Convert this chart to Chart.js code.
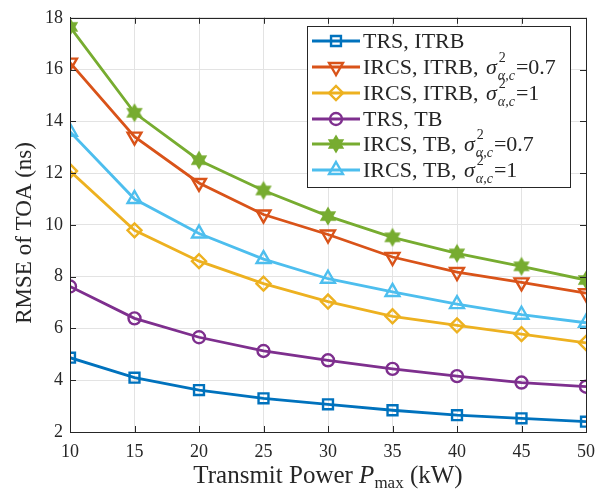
<!DOCTYPE html>
<html>
<head>
<meta charset="UTF-8">
<title>RMSE of TOA</title>
<script src="https://cdn.jsdelivr.net/npm/chart.js"></script>
<style>
  body { margin: 0; background: #fff; }
  #wrap { width: 608px; height: 496px; position: relative; }
</style>
</head>
<body>
<div id="wrap"><canvas id="rmseChart"></canvas></div>
<script>
// transmit power (kW)
const power = [10, 15, 20, 25, 30, 35, 40, 45, 50];

// RMSE of TOA (ns)
const trsItrb      = [4.87, 4.10, 3.62, 3.30, 3.07, 2.84, 2.65, 2.53, 2.40];
const ircsItrb07   = [16.27, 13.41, 11.62, 10.40, 9.63, 8.76, 8.18, 7.78, 7.36];
const ircsItrb1    = [12.08, 9.79, 8.60, 7.73, 7.04, 6.47, 6.12, 5.78, 5.44];
const trsTb        = [7.62, 6.39, 5.66, 5.13, 4.77, 4.44, 4.16, 3.91, 3.75];
const ircsTb07     = [17.65, 14.33, 12.50, 11.33, 10.34, 9.52, 8.90, 8.40, 7.87];
const ircsTb1      = [13.60, 11.00, 9.67, 8.68, 7.92, 7.41, 6.94, 6.53, 6.22];

// legend text: base name + sigma^2 value ('' = none)
const seriesNames  = ['TRS, ITRB', 'IRCS, ITRB, ', 'IRCS, ITRB, ', 'TRS, TB', 'IRCS, TB, ', 'IRCS, TB, '];
const sigmaValues  = ['', '0.7', '1', '', '0.7', '1'];

const xTicks = { min: 10, max: 50, step: 5 };
const yTicks = { min: 2, max: 18, step: 2 };

const FONT = '"Liberation Serif", "DejaVu Serif", serif';

// hexagram marker (MATLAB 'h')
function hexagram(color, r) {
  const c = document.createElement('canvas');
  const s = Math.ceil(r * 2 + 4);
  c.width = s; c.height = s;
  const g = c.getContext('2d');
  const cx = s / 2, cy = s / 2;
  g.beginPath();
  for (let i = 0; i < 12; i++) {
    const a = -Math.PI / 2 + i * Math.PI / 6;
    const rr = (i % 2 === 0) ? r : r * 0.58;
    const px = cx + rr * Math.cos(a), py = cy + rr * Math.sin(a);
    if (i === 0) g.moveTo(px, py); else g.lineTo(px, py);
  }
  g.closePath();
  g.fillStyle = color;
  g.fill();
  g.lineWidth = 1.5;
  g.strokeStyle = color;
  g.stroke();
  return c;
}

const colors = ['#0072BD', '#D95319', '#EDB120', '#7E2F8E', '#77AC30', '#4DBEEE'];
const allData = [trsItrb, ircsItrb07, ircsItrb1, trsTb, ircsTb07, ircsTb1];
const styles = [
  { pointStyle: 'rect', pointRadius: 7, pointRotation: 0 },
  { pointStyle: 'triangle', pointRadius: 8, pointRotation: 180 },
  { pointStyle: 'rectRot', pointRadius: 7, pointRotation: 0 },
  { pointStyle: 'circle', pointRadius: 6, pointRotation: 0 },
  { pointStyle: hexagram(colors[4], 8), pointRadius: 8, pointRotation: 0 },
  { pointStyle: 'triangle', pointRadius: 8, pointRotation: 0 }
];

const datasets = allData.map((arr, i) => ({
  label: seriesNames[i] + (sigmaValues[i] ? 'σ²=' + sigmaValues[i] : ''),
  data: power.map((p, j) => ({ x: p, y: arr[j] })),
  borderColor: colors[i],
  borderWidth: 2.8,
  backgroundColor: 'rgba(0,0,0,0)',
  pointBackgroundColor: 'rgba(0,0,0,0)',
  pointBorderColor: colors[i],
  pointBorderWidth: 2.4,
  pointStyle: styles[i].pointStyle,
  pointRadius: styles[i].pointRadius,
  pointRotation: styles[i].pointRotation,
  tension: 0
}));

// box, inward ticks, axis titles and the legend
const frame = {
  id: 'frame',
  afterDraw(chart) {
    const ctx = chart.ctx;
    const a = chart.chartArea;
    const xs = chart.scales.x, ys = chart.scales.y;
    ctx.save();
    ctx.strokeStyle = '#262626';
    ctx.lineWidth = 1;
    ctx.strokeRect(Math.round(a.left) + 0.5, Math.round(a.top) + 0.5,
                   Math.round(a.right - a.left), Math.round(a.bottom - a.top));
    const tl = 6;
    ctx.beginPath();
    xs.ticks.forEach(t => {
      const px = Math.round(xs.getPixelForValue(t.value)) + 0.5;
      ctx.moveTo(px, a.bottom); ctx.lineTo(px, a.bottom - tl);
      ctx.moveTo(px, a.top); ctx.lineTo(px, a.top + tl);
    });
    ys.ticks.forEach(t => {
      const py = Math.round(ys.getPixelForValue(t.value)) + 0.5;
      ctx.moveTo(a.left, py); ctx.lineTo(a.left + tl, py);
      ctx.moveTo(a.right, py); ctx.lineTo(a.right - tl, py);
    });
    ctx.stroke();

    // y title
    ctx.fillStyle = '#262626';
    ctx.font = '23px ' + FONT;
    ctx.textAlign = 'center';
    ctx.textBaseline = 'middle';
    ctx.save();
    ctx.translate(25, (a.top + a.bottom) / 2 + 8);
    ctx.rotate(-Math.PI / 2);
    ctx.fillText('RMSE of TOA (ns)', 0, 0);
    ctx.restore();

    // x title with subscript
    const parts = [
      { t: 'Transmit Power ', f: '25px ' + FONT, dy: 0 },
      { t: 'P', f: 'italic 25px ' + FONT, dy: 0 },
      { t: 'max', f: '17px ' + FONT, dy: 5 },
      { t: ' (kW)', f: '25px ' + FONT, dy: 0 }
    ];
    let w = 0;
    parts.forEach(p => { ctx.font = p.f; w += ctx.measureText(p.t).width; });
    let x = (a.left + a.right) / 2 - w / 2;
    ctx.textAlign = 'left';
    ctx.textBaseline = 'alphabetic';
    parts.forEach(p => {
      ctx.font = p.f;
      ctx.fillText(p.t, x, 483 + p.dy);
      x += ctx.measureText(p.t).width;
    });

    // legend
    const lx = 307, ly = 26, lw = 263, lh = 161;
    ctx.fillStyle = '#fff';
    ctx.fillRect(lx, ly, lw, lh);
    ctx.strokeStyle = '#262626';
    ctx.strokeRect(lx + 0.5, ly + 0.5, lw, lh);
    const rowY = [41, 67, 93, 119, 144, 170];
    chart.data.datasets.forEach((ds, i) => {
      const y = rowY[i];
      ctx.strokeStyle = ds.borderColor;
      ctx.lineWidth = ds.borderWidth;
      ctx.beginPath();
      ctx.moveTo(312, y); ctx.lineTo(360, y);
      ctx.stroke();
      ctx.lineWidth = ds.pointBorderWidth;
      ctx.fillStyle = ds.pointBackgroundColor;
      Chart.helpers.drawPoint(ctx, {
        pointStyle: ds.pointStyle, radius: ds.pointRadius,
        rotation: ds.pointRotation, borderWidth: ds.pointBorderWidth
      }, 336, y);
      ctx.fillStyle = '#262626';
      ctx.textBaseline = 'alphabetic';
      ctx.textAlign = 'left';
      const base = y + 7;
      let tx = 363;
      ctx.font = '22px ' + FONT;
      ctx.fillText(seriesNames[i], tx, base);
      tx += ctx.measureText(seriesNames[i]).width + 2;
      if (sigmaValues[i]) {
        ctx.font = 'italic 22px ' + FONT;
        ctx.fillText('σ', tx, base);
        tx += ctx.measureText('σ').width + 1;
        ctx.font = '14px ' + FONT;
        ctx.fillText('2', tx + 1, base - 12);
        const w2 = ctx.measureText('2').width;
        ctx.font = 'italic 14px ' + FONT;
        ctx.fillText('α,c', tx, base + 6);
        const w3 = ctx.measureText('α,c').width;
        tx += Math.max(w2, w3) + 1;
        ctx.font = '22px ' + FONT;
        ctx.fillText('=' + sigmaValues[i], tx, base);
      }
    });
    ctx.restore();
  }
};

new Chart(document.getElementById('rmseChart').getContext('2d'), {
  type: 'line',
  data: { datasets: datasets },
  options: {
    responsive: true,
    maintainAspectRatio: false,
    animation: false,
    layout: { padding: { top: 13, right: 22, left: 0, bottom: 0 } },
    plugins: { legend: { display: false }, tooltip: { enabled: false } },
    scales: {
      x: {
        type: 'linear',
        min: xTicks.min, max: xTicks.max,
        afterFit: s => { s.height = 64; },
        ticks: { stepSize: xTicks.step, color: '#262626', padding: 9, maxRotation: 0,
                 font: { family: FONT, size: 18 } },
        grid: { color: '#e3e3e3', drawTicks: false },
        border: { color: '#262626' }
      },
      y: {
        min: yTicks.min, max: yTicks.max,
        afterFit: s => { s.width = 70; },
        ticks: { stepSize: yTicks.step, color: '#262626', padding: 7,
                 font: { family: FONT, size: 18 } },
        grid: { color: '#e3e3e3', drawTicks: false },
        border: { color: '#262626' }
      }
    }
  },
  plugins: [frame]
});
</script>
</body>
</html>
